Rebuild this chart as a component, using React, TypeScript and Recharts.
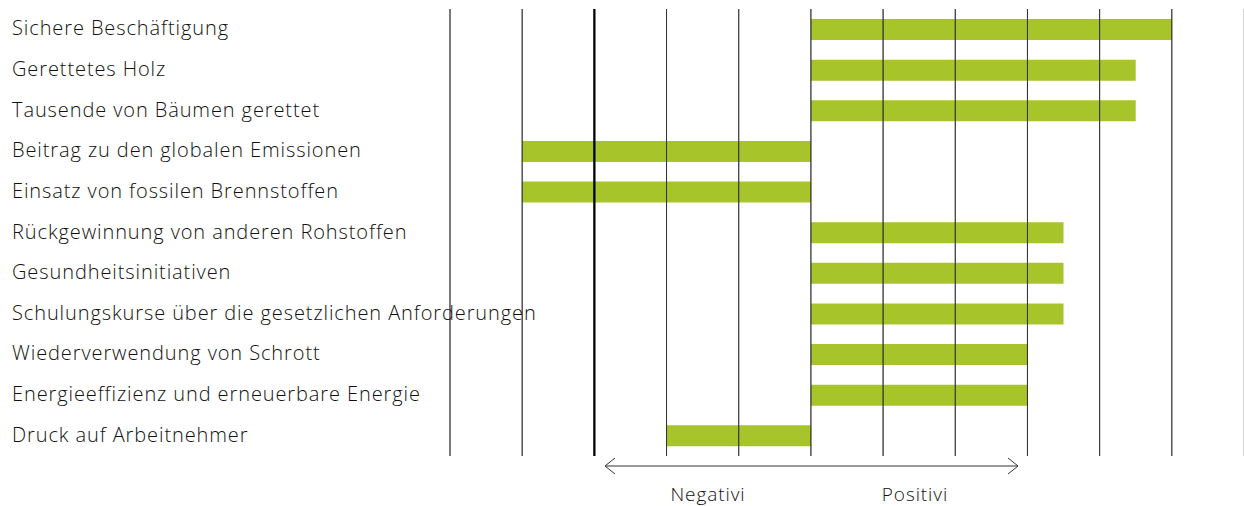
import { BarChart, Bar, XAxis, YAxis, ReferenceLine } from 'recharts'

const categories = [
  'Sichere Beschäftigung',
  'Gerettetes Holz',
  'Tausende von Bäumen gerettet',
  'Beitrag zu den globalen Emissionen',
  'Einsatz von fossilen Brennstoffen',
  'Rückgewinnung von anderen Rohstoffen',
  'Gesundheitsinitiativen',
  'Schulungskurse über die gesetzlichen Anforderungen',
  'Wiederverwendung von Schrott',
  'Energieeffizienz und erneuerbare Energie',
  'Druck auf Arbeitnehmer',
]

const impact = [5, 4.5, 4.5, -4, -4, 3.5, 3.5, 3.5, 3, 3, -2]

const gridValues = [-5, -4, -3, -2, -1, 0, 1, 2, 3, 4, 5]
const directionLabels = ['Negativi', 'Positivi']

const GREEN = '#a7c52b'
const FONT = '"Open Sans", Lato, sans-serif'

const data = categories.map((name, i) => ({ name, value: impact[i] }))

function CategoryTick(props: any) {
  const { y, payload } = props
  return (
    <text
      x={12}
      y={y}
      dy={6}
      textAnchor="start"
      fontSize={20}
      letterSpacing={0.9}
      fill="#111"
      fontFamily={FONT}
      fontWeight={300}
    >
      {payload.value}
    </text>
  )
}

export default function App() {
  return (
    <div style={{ position: 'absolute', left: 0, top: 0, width: 1244, height: 506, background: '#fff' }}>
      <BarChart
        width={1244}
        height={506}
        data={data}
        layout="vertical"
        margin={{ top: 9, right: 0, bottom: 50, left: 0 }}
      >
        <XAxis type="number" dataKey="value" domain={[-5, 6]} hide />
        <YAxis
          type="category"
          dataKey="name"
          width={450}
          axisLine={false}
          tickLine={false}
          tick={<CategoryTick />}
          interval={0}
        />
        {gridValues.map(v => (
          <ReferenceLine
            key={v}
            x={v}
            stroke={v === -3 ? '#000' : '#333'}
            strokeWidth={v === -3 ? 2 : 1}
          />
        ))}
        <ReferenceLine x={6} stroke="#aaa" strokeWidth={1} />
        <Bar dataKey="value" fill={GREEN} barSize={21} isAnimationActive={false} />
        {gridValues.map(v => (
          <ReferenceLine
            key={'o' + v}
            x={v}
            stroke={v === -3 ? '#000' : '#333'}
            strokeWidth={v === -3 ? 2 : 1}
            strokeOpacity={0.6}
          />
        ))}
      </BarChart>
      <svg
        width={1244}
        height={506}
        style={{ position: 'absolute', left: 0, top: 0, pointerEvents: 'none' }}
      >
        <line x1={605} y1={466} x2={1018} y2={466} stroke="#333" strokeWidth={1} />
        <polyline points="615,458 605,466 615,474" fill="none" stroke="#333" strokeWidth={1} />
        <polyline points="1008,458 1018,466 1008,474" fill="none" stroke="#333" strokeWidth={1} />
        <text x={708} y={501} textAnchor="middle" fontSize={19} letterSpacing={0.9} fill="#111" fontFamily={FONT} fontWeight={300}>
          {directionLabels[0]}
        </text>
        <text x={915} y={501} textAnchor="middle" fontSize={19} letterSpacing={0.9} fill="#111" fontFamily={FONT} fontWeight={300}>
          {directionLabels[1]}
        </text>
      </svg>
    </div>
  )
}
